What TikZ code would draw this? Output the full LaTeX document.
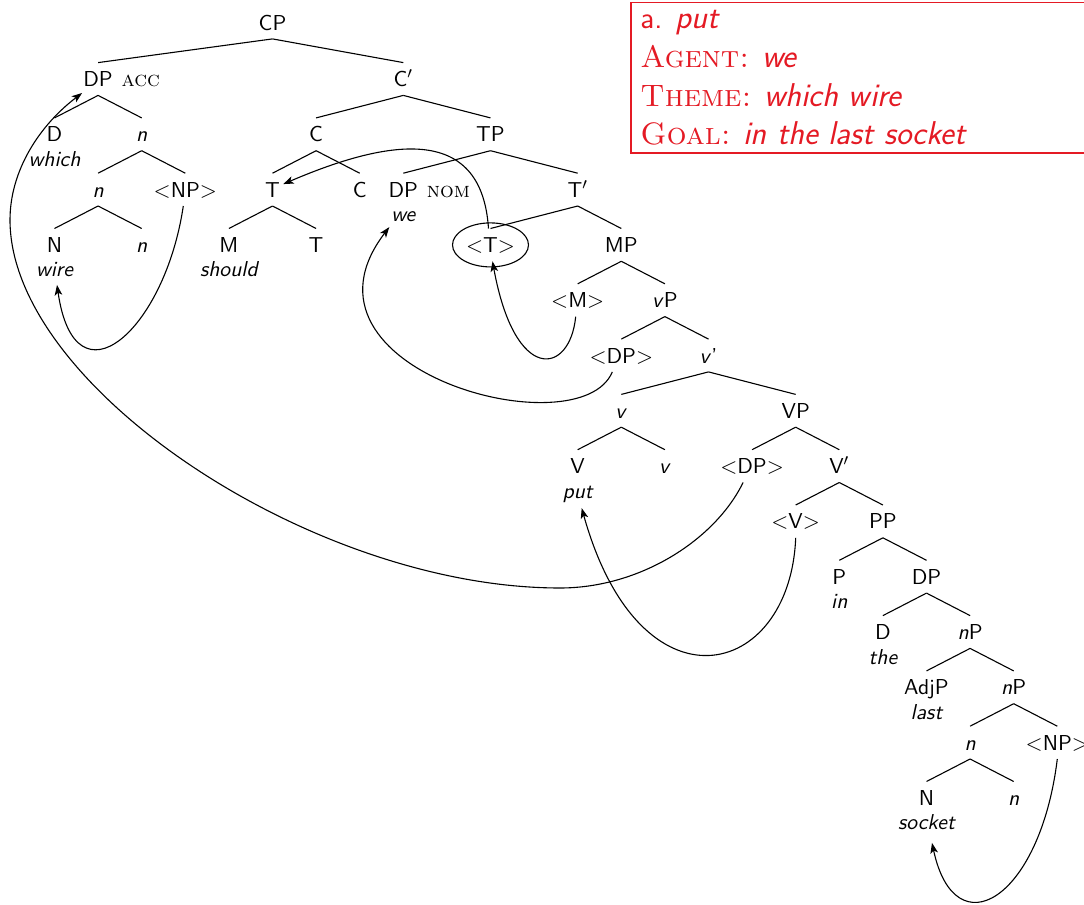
\documentclass[tikz,border=0pt]{standalone}
\usepackage{fontspec}
\usetikzlibrary{arrows.meta}
\definecolor{boxred}{RGB}{228,26,36}
\begin{document}
\begin{tikzpicture}[x=0.5pt,y=-0.5pt,
  font=\fontsize{10.8}{13}\selectfont\sffamily,
  cat/.style={inner sep=0pt,text height=7.5pt,text depth=0pt,minimum height=16pt},
  wd/.style={inner sep=0pt,anchor=base,font=\fontsize{10.8}{13}\selectfont\sffamily\itshape},
  feat/.style={inner sep=0pt,anchor=west,text height=7.5pt,text depth=0pt,minimum height=16pt,font=\fontsize{10.8}{13}\selectfont\rmfamily\scshape},
  br/.style={line width=0.55pt},
  mv/.style={line width=0.55pt,-{Stealth[length=5.2pt,width=3.8pt,inset=1.3pt]}},
  redline/.style={anchor=base west,inner sep=0pt,text=boxred,font=\fontsize{15.5}{19}\selectfont\sffamily}
]
\useasboundingbox (0,0) rectangle (1084,905);

% level 0-1
\node[cat] (cp) at (272.5,22.5) {CP};
\node[cat] (dpacc) at (98.1,79) {DP};
\node[feat] (acc) at ([xshift=4pt]dpacc.east) {acc};
\node[cat] (cbar) at (403.3,79) {C$'$};
% level 2
\node[cat] (d1) at (54.5,134.3) {D};
\node[wd] (which) at (54.5,166.3) {which};
\node[cat] (n1) at (141.7,134.3) {\textit{n}};
\node[cat] (c1) at (316.1,134.3) {C};
\node[cat] (tp) at (490.5,134.3) {TP};
% level 3
\node[cat] (n2) at (98.1,189.6) {\textit{n}};
\node[cat] (np1) at (185.3,189.6) {$<$NP$>$};
\node[cat] (t1) at (272.5,189.6) {T};
\node[cat] (c2) at (359.7,189.6) {C};
\node[cat] (dpnom) at (403.3,189.6) {DP};
\node[feat] (nom) at ([xshift=4pt]dpnom.east) {nom};
\node[wd] (we) at (403.3,221.6) {we};
\node[cat] (tbar) at (577.7,189.6) {T$'$};
% level 4
\node[cat] (N1) at (54.5,244.9) {N};
\node[wd] (wire) at (54.5,276.9) {wire};
\node[cat] (n3) at (141.7,244.9) {\textit{n}};
\node[cat] (m1) at (228.9,244.9) {M};
\node[wd] (should) at (228.9,276.9) {should};
\node[cat] (t2) at (316.1,244.9) {T};
\node[cat] (tt) at (490.5,244.9) {$<$T$>$};
\node[cat] (mp) at (621.3,244.9) {MP};
% level 5
\node[cat] (mm) at (577.7,300.2) {$<$M$>$};
\node[cat] (vp) at (664.9,300.2) {\textit{v}P};
% level 6
\node[cat] (dp2) at (621.3,355.5) {$<$DP$>$};
\node[cat] (vbar) at (708.5,355.5) {\textit{v}'};
% level 7
\node[cat] (v1) at (621.3,410.8) {\textit{v}};
\node[cat] (VP) at (795.7,410.8) {VP};
% level 8
\node[cat] (V1) at (577.7,466.1) {V};
\node[wd] (put) at (577.7,498.1) {put};
\node[cat] (v2) at (664.9,466.1) {\textit{v}};
\node[cat] (dp3) at (752.1,466.1) {$<$DP$>$};
\node[cat] (Vbar) at (839.3,466.1) {V$'$};
% level 9
\node[cat] (VV) at (795.7,521.4) {$<$V$>$};
\node[cat] (pp) at (882.9,521.4) {PP};
% level 10
\node[cat] (p1) at (839.3,576.7) {P};
\node[wd] (in) at (839.3,608.7) {in};
\node[cat] (dp4) at (926.5,576.7) {DP};
% level 11
\node[cat] (d2) at (882.9,632) {D};
\node[wd] (the) at (882.9,664) {the};
\node[cat] (np2) at (970.1,632) {\textit{n}P};
% level 12
\node[cat] (adjp) at (926.5,687.3) {AdjP};
\node[wd] (last) at (926.5,719.3) {last};
\node[cat] (np3) at (1013.7,687.3) {\textit{n}P};
% level 13
\node[cat] (n4) at (970.1,742.6) {\textit{n}};
\node[cat] (np4) at (1057.3,742.6) {$<$NP$>$};
% level 14
\node[cat] (N2) at (926.5,797.9) {N};
\node[wd] (socket) at (926.5,829.9) {socket};
\node[cat] (n5) at (1013.7,797.9) {\textit{n}};

% branches
\foreach \p/\c in {cp/dpacc,cp/cbar,dpacc/d1,dpacc/n1,n1/n2,n1/np1,n2/N1,n2/n3,
  cbar/c1,cbar/tp,c1/t1,c1/c2,t1/m1,t1/t2,tp/dpnom,tp/tbar,tbar/tt,tbar/mp,
  mp/mm,mp/vp,vp/dp2,vp/vbar,vbar/v1,vbar/VP,v1/V1,v1/v2,VP/dp3,VP/Vbar,
  Vbar/VV,Vbar/pp,pp/p1,pp/dp4,dp4/d2,dp4/np2,np2/adjp,np2/np3,np3/n4,np3/np4,
  n4/N2,n4/n5}
  \draw[br] (\p.south) -- (\c.north);

\draw[br] (tt) ellipse [x radius=19pt, y radius=11pt];

% movement arrows
\draw[mv] ([xshift=-1pt]np1.south) .. controls (165,330) and (75,410) .. ([shift={(2.5,8)}]wire.base);
\draw[mv] ([xshift=-1pt]tt.north) .. controls (482,130) and (400,134) .. ([shift={(3,-5.5)}]t1.east);
\draw[mv] ([xshift=-1pt]mm.south) .. controls (570,375) and (515,385) .. ([xshift=1pt]tt.south);
\draw[mv] ([xshift=-4.5pt]dp2.south) .. controls (580,450) and (280,370) .. ([shift={(-14,5.5)}]we.base);
\coordinate (b1) at (560,588);
\coordinate (b2) at (10,220);
\draw[mv] ([xshift=-4.5pt]dp3.south) .. controls (715,540) and (640,588) .. (b1)
  .. controls (312,588) and (10,386) .. (b2)
  .. controls (10,170) and (40,125) .. ([shift={(-16,14)}]dpacc.center);
\draw[mv] (VV.south) .. controls (790,680) and (640,717) .. ([shift={(4,10)}]put.base);
\draw[mv] (np4.south) .. controls (1040,900) and (955,950) .. ([shift={(5.5,13)}]socket.base);

% red box
\draw[draw=boxred, line width=0.6pt] (631,2.5) rectangle (1100,153);
\node[redline] (r1) at (640,28) {a. {\fontsize{16.5}{19}\selectfont\itshape put}};
\node[redline] (r2) at (640,67) {{\rmfamily\scshape Agent:} {\fontsize{16.5}{19}\selectfont\itshape we}};
\node[redline] (r3) at (640,106) {{\rmfamily\scshape Theme:} {\fontsize{16.5}{19}\selectfont\itshape which wire}};
\node[redline] (r4) at (640,144) {{\rmfamily\scshape Goal:} {\fontsize{16.5}{19}\selectfont\itshape in the last socket}};
\end{tikzpicture}
\end{document}
